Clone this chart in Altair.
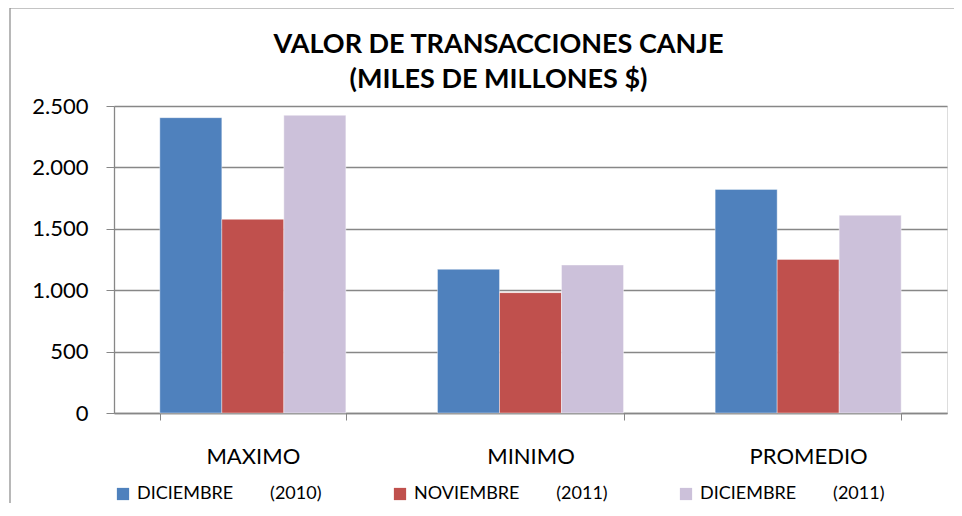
import altair as alt
import pandas as pd

categories = ["MAXIMO", "MINIMO", "PROMEDIO"]
NB = "\u00a0" * 8
series = ["DICIEMBRE" + NB + "(2010)", "NOVIEMBRE" + NB + "(2011)", "DICIEMBRE" + NB + "(2011)"]
dic_2010 = [2405, 1170, 1821]
nov_2011 = [1577, 980, 1251]
dic_2011 = [2424, 1205, 1610]
colors = ["#4F81BD", "#C0504D", "#CCC1DA"]
y_ticks = [0, 500, 1000, 1500, 2000, 2500]

rows = []
for s, vals in zip(series, [dic_2010, nov_2011, dic_2011]):
    for c, v in zip(categories, vals):
        rows.append({"cat": c, "serie": s, "valor": v})
df = pd.DataFrame(rows)

FONT = "Lato"
GRID = "#878787"

bars = alt.Chart(df).mark_bar(stroke="white", strokeWidth=0.4).encode(
    x=alt.X("cat:N", sort=categories, title=None,
            scale=alt.Scale(paddingInner=0.33, paddingOuter=0.165),
            axis=alt.Axis(labelAngle=0, labelFont=FONT, labelFontSize=22, labelColor="black",
                          labelPadding=26, tickSize=7, tickColor=GRID, tickBand="extent",
                          domainColor=GRID, domainWidth=1.3, grid=False)),
    xOffset=alt.XOffset("serie:N", sort=series, scale=alt.Scale(paddingInner=0, paddingOuter=0)),
    y=alt.Y("valor:Q", title=None,
            scale=alt.Scale(domain=[0, 2500], nice=False),
            axis=alt.Axis(values=y_ticks, labelExpr="replace(format(datum.value, ','), ',', '.')",
                          labelFont=FONT, labelFontSize=22, labelColor="black", labelPadding=18,
                          tickSize=8, tickColor=GRID, domainColor=GRID, domainWidth=1.3,
                          gridColor=GRID, gridWidth=1.3)),
    color=alt.Color("serie:N", sort=series, scale=alt.Scale(domain=series, range=colors),
                    legend=alt.Legend(title=None, orient="none", legendX=0, legendY=379,
                                      direction="horizontal", symbolType="square", symbolSize=150,
                                      symbolStrokeWidth=0, labelFont=FONT, labelFontSize=18,
                                      labelColor="black", labelOffset=5, columnPadding=69,
                                      padding=0, labelLimit=400)),
)

frame = alt.Chart(alt.InlineData(values=[{"a": 1}])).mark_rect(
    filled=False, stroke="#898989", strokeWidth=1.2
).encode(x=alt.value(-104), x2=alt.value(860), y=alt.value(-98), y2=alt.value(420))

chart = alt.layer(frame, bars).properties(
    width=833, height=307,
    autosize=alt.AutoSizeParams(type="none"),
    padding={"left": 106, "top": 98, "right": 7, "bottom": 90},
    title=alt.TitleParams(text=["VALOR DE TRANSACCIONES CANJE", "(MILES DE MILLONES $)"],
                          font=FONT, fontSize=27, fontWeight="bold", color="black",
                          lineHeight=35, anchor="middle", frame="group", dx=-32, offset=-87),
).configure_view(stroke="black", strokeWidth=1.5).configure(background="white")

chart.save("out.html", embed_options={"renderer": "svg", "actions": False})
